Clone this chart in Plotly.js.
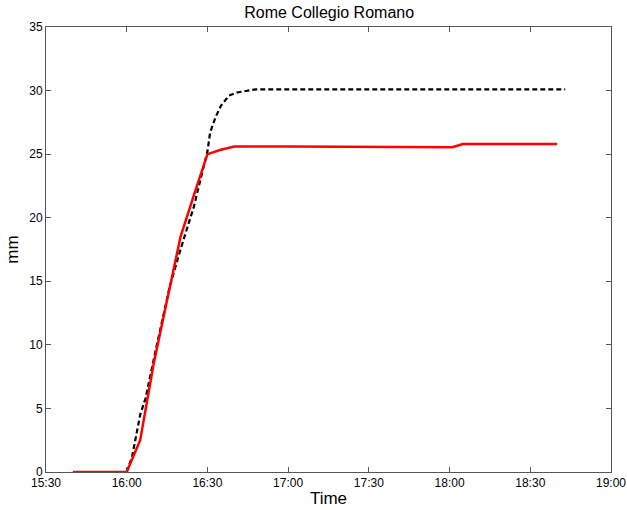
<!DOCTYPE html>
<html>
<head>
<meta charset="utf-8">
<script src="https://cdn.plot.ly/plotly-3.0.1.min.js"></script>
<style>html,body{margin:0;padding:0;background:#fff;}#chart{width:627px;height:510px;}</style>
</head>
<body>
<div id="chart"></div>
<script>
const DAY = "2000-01-01 ";
const blackTimes = ["16:00","16:02","16:05","16:07","16:11","16:16","16:20","16:25","16:28","16:30","16:31","16:33","16:35","16:38","16:41","16:44","16:48","17:00","17:30","18:00","18:30","18:43"];
const blackValues = [0,1.2,4.5,5.8,9.8,14.6,17.5,20.9,23.5,25.2,26.7,27.9,28.8,29.6,29.85,29.95,30.1,30.1,30.1,30.1,30.1,30.1];
const redTimes = ["15:40","15:45","15:50","15:55","16:00","16:05","16:10","16:15","16:20","16:25","16:30","16:35","16:40","17:00","17:30","18:00","18:01","18:05","18:30","18:40"];
const redValues = [0,0,0,0,0,2.5,8.5,13.5,18.5,21.8,25.0,25.35,25.6,25.6,25.6,25.6,25.55,25.8,25.8,25.8];
const tickTimes = ["15:30","16:00","16:30","17:00","17:30","18:00","18:30","19:00"];

const toDate = a => a.map(t => DAY + t);

const traces = [
  {x: toDate(blackTimes), y: blackValues, type: "scatter", mode: "lines",
   line: {color: "#000000", width: 2.2, dash: "5px,3px"}, hoverinfo: "skip"},
  {x: toDate(redTimes), y: redValues, type: "scatter", mode: "lines",
   line: {color: "#ff0000", width: 2.5}, hoverinfo: "skip"}
];

const FONT = "Liberation Sans, Arial, sans-serif";
const axisCommon = {
  showgrid: false, zeroline: false, showline: true, mirror: "ticks",
  linecolor: "#555555", linewidth: 1, ticks: "inside", ticklen: 5,
  tickcolor: "#555555", tickfont: {family: FONT, size: 12, color: "#000"}
};

const layout = {
  width: 627, height: 510,
  margin: {l: 46, r: 16, t: 27, b: 38},
  paper_bgcolor: "#fff", plot_bgcolor: "#fff",
  showlegend: false,
  title: {text: "Rome Collegio Romano", x: 0.525, xanchor: "center", y: 0.975, yanchor: "middle",
          font: {family: FONT, size: 16, color: "#000"}},
  xaxis: Object.assign({}, axisCommon, {
    type: "date", range: [DAY + "15:30", DAY + "19:00"],
    tickvals: toDate(tickTimes), ticktext: tickTimes,
    title: {text: "Time", standoff: 2, font: {family: FONT, size: 17, color: "#000"}}
  }),
  yaxis: Object.assign({}, axisCommon, {
    range: [0, 35], dtick: 5, tick0: 0,
    title: {text: "mm", standoff: 6, font: {family: FONT, size: 17, color: "#000"}}
  })
};

Plotly.newPlot("chart", traces, layout, {displayModeBar: false, staticPlot: true});
</script>
</body>
</html>
